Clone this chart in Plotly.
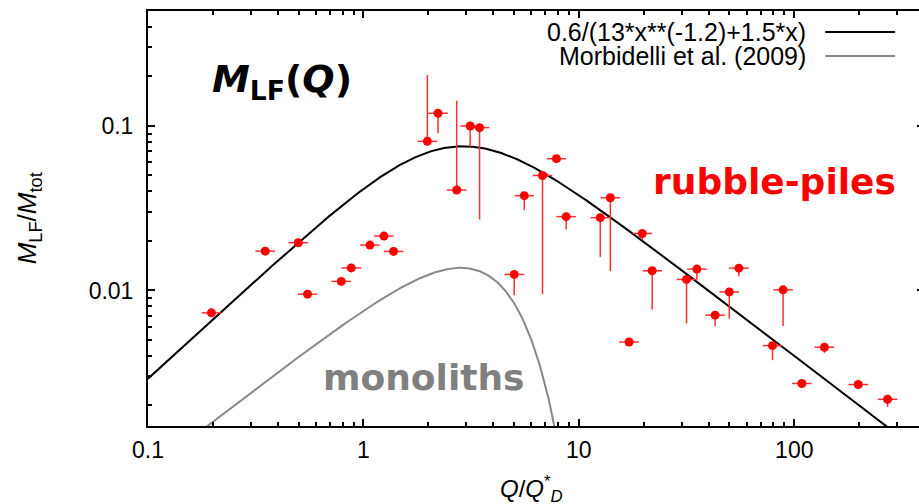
import numpy as np
import plotly.graph_objects as go

# ---------------- data ----------------
q = [0.197, 0.350, 0.498, 0.550, 0.789, 0.878, 1.072, 1.245, 1.380,
     1.98, 2.22, 2.71, 3.13, 3.46, 5.01, 5.58, 6.78, 7.87, 8.73,
     12.57, 14.0, 17.1, 19.7, 21.9, 31.6, 35.3, 42.9, 49.9, 55.3,
     79.2, 88.7, 108.4, 138.0, 198.0, 271.0]
m_lf = [0.00731, 0.01734, 0.0195, 0.0095, 0.01135, 0.01372, 0.01888, 0.02141, 0.01727,
        0.0807, 0.1195, 0.0408, 0.100, 0.0977, 0.01252, 0.0377, 0.0500, 0.0633, 0.0281,
        0.0277, 0.0366, 0.00486, 0.0222, 0.01317, 0.01167, 0.01349, 0.00708, 0.0098, 0.01367,
        0.00462, 0.01009, 0.00272, 0.00452, 0.00268, 0.00218]
# lower / upper ends of vertical error bars (None = no bar on that side)
m_low = [None, None, None, None, None, None, None, None, None,
         None, 0.0902, None, 0.0748, 0.0270, 0.00936, 0.0308, 0.0095, None, 0.0235,
         0.0160, 0.0131, None, 0.0202, 0.00766, 0.0063, 0.0116, 0.00607, 0.00675, 0.0122,
         0.00377, 0.00609, None, 0.00418, None, 0.00196]
m_high = [None, None, None, None, None, None, None, None, None,
          0.204, None, 0.1426, None, None, None, None, None, None, None,
          None, None, None, None, None, None, None, None, None, None,
          None, None, None, None, None, None]
q_rel_err = 1.11  # horizontal bars: factor in Q

x_major = [0.1, 1, 10, 100]
x_major_text = ["0.1", "1", "10", "100"]
y_major = [0.01, 0.1]
y_major_text = ["0.01", "0.1"]

legend_fit = "0.6/(13*x**(-1.2)+1.5*x)"
legend_morb = "Morbidelli et al. (2009)"

# ---------------- figure ----------------
W, H = 930, 504
ML, MR, MT, MB = 148, 4, 11, 78
PW, PH = W - ML - MR, H - MT - MB


def px(xp):
    return (xp - ML) / PW


def py(yp):
    return (H - MB - yp) / PH


qq = np.logspace(-1, np.log10(400), 800)
fit = 0.6 / (13 * qq ** (-1.2) + 1.5 * qq)
qm = qq[qq <= 9]
morb = 8e-3 * qm * np.exp(-(qm / 4.0) ** 2)

q_arr = np.array(q)
m_arr = np.array(m_lf)
lo = np.array([v if v is not None else mm for v, mm in zip(m_low, m_lf)])
hi = np.array([v if v is not None else mm for v, mm in zip(m_high, m_lf)])

fig = go.Figure()
fig.add_trace(go.Scatter(x=qm, y=morb, mode="lines",
                         line=dict(color="#888888", width=2), showlegend=False,
                         hoverinfo="skip"))
fig.add_trace(go.Scatter(x=qq, y=fit, mode="lines",
                         line=dict(color="black", width=2), showlegend=False,
                         hoverinfo="skip"))
fig.add_trace(go.Scatter(
    x=q_arr, y=m_arr, mode="markers",
    marker=dict(color="#ff0000", size=9, line=dict(width=0)),
    error_x=dict(type="data", symmetric=False,
                 array=q_arr * (q_rel_err - 1), arrayminus=q_arr * (1 - 1 / q_rel_err),
                 color="#ff3030", thickness=1.5, width=0),
    error_y=dict(type="data", symmetric=False,
                 array=hi - m_arr, arrayminus=m_arr - lo,
                 color="#ff3030", thickness=1.5, width=0),
    showlegend=False))

x_minor = [k * 10.0 ** e for e in range(-1, 3) for k in range(2, 10)]
y_minor = [k * 10.0 ** e for e in range(-3, 0) for k in range(2, 10)]

tickfont = dict(family="Liberation Sans, Arial, sans-serif", size=23, color="black")
common = dict(type="log", showgrid=False, zeroline=False, showline=True,
              linecolor="black", linewidth=2, mirror="allticks",
              ticks="inside", ticklen=7, tickwidth=1.5, tickcolor="black",
              tickfont=tickfont, tickmode="array")

fig.update_layout(
    width=W, height=H, margin=dict(l=ML, r=MR, t=MT, b=MB, pad=0),
    paper_bgcolor="white", plot_bgcolor="white", showlegend=False,
    xaxis=dict(range=[-1, np.log10(400)], tickvals=x_major, ticktext=x_major_text,
               minor=dict(tickmode="array", tickvals=x_minor, ticks="inside",
                          ticklen=4, tickwidth=1.5, tickcolor="black"),
               ticklabelstandoff=2, **common),
    yaxis=dict(range=[np.log10(0.0015), np.log10(0.5)], tickvals=y_major, ticktext=y_major_text,
               minor=dict(tickmode="array", tickvals=y_minor, ticks="inside",
                          ticklen=4, tickwidth=1.5, tickcolor="black"),
               ticklabelstandoff=8, **common),
)

ann = []
# legend (text right-aligned, sample line on the right)
legfont = dict(family="Liberation Sans, Arial, sans-serif", size=25, color="black")
ann.append(dict(text=legend_fit, x=px(809), y=py(32), xref="paper", yref="paper",
                xanchor="right", yanchor="middle", showarrow=False, font=legfont, borderpad=0))
ann.append(dict(text=legend_morb, x=px(809), y=py(56), xref="paper", yref="paper",
                xanchor="right", yanchor="middle", showarrow=False, font=legfont, borderpad=0))
fig.add_shape(type="line", xref="paper", yref="paper", x0=px(827), x1=px(897),
              y0=py(32), y1=py(32), line=dict(color="black", width=2))
fig.add_shape(type="line", xref="paper", yref="paper", x0=px(827), x1=px(897),
              y0=py(56), y1=py(56), line=dict(color="#888888", width=2))

# big labels
ann.append(dict(text="<b><i>M</i><sub>LF</sub>(<i>Q</i>)</b>", x=px(282), y=py(82),
                xref="paper", yref="paper", xanchor="center", yanchor="middle",
                showarrow=False, font=dict(family="DejaVu Sans, sans-serif", size=38, color="black")))
ann.append(dict(text="<b>rubble-piles</b>", x=px(776), y=py(182),
                xref="paper", yref="paper", xanchor="center", yanchor="middle",
                showarrow=False, font=dict(family="DejaVu Sans, sans-serif", size=36, color="#ff0000")))
ann.append(dict(text="<b>monoliths</b>", x=px(425), y=py(377),
                xref="paper", yref="paper", xanchor="center", yanchor="middle",
                showarrow=False, font=dict(family="DejaVu Sans, sans-serif", size=36, color="#808080")))

# axis titles
ann.append(dict(text="<i>M</i><sub>LF</sub>/<i>M</i><sub>tot</sub>", x=px(29), y=py(218),
                xref="paper", yref="paper", xanchor="center", yanchor="middle",
                textangle=-90, showarrow=False,
                font=dict(family="Liberation Sans, Arial, sans-serif", size=26, color="black")))
ann.append(dict(text="<i>Q</i>/<i>Q</i><sup>*</sup><sub><i>D</i></sub>", x=px(532), y=py(489),
                xref="paper", yref="paper", xanchor="center", yanchor="middle",
                showarrow=False,
                font=dict(family="Liberation Sans, Arial, sans-serif", size=24, color="black")))
fig.update_layout(annotations=ann)

fig.write_html("out.html",
               post_script="document.body.style.overflow='hidden';"
                           "document.documentElement.style.overflow='hidden';"
                           "document.body.style.margin='0';")
